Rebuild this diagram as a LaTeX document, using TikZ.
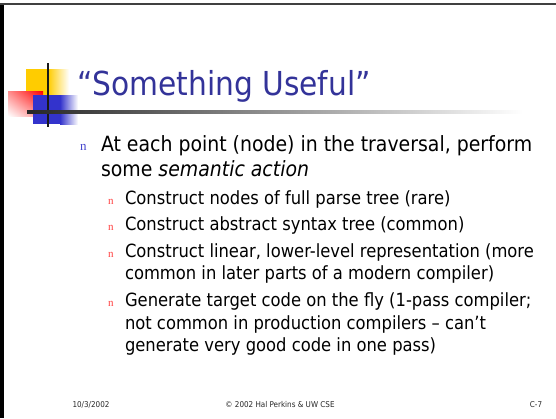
\documentclass[tikz,border=0pt]{standalone}
\usepackage{fontspec}
\setmainfont{DejaVu Sans Condensed}
\newfontfamily\bulletfont{Liberation Serif}
\usepackage{tikz}
\usetikzlibrary{shadings}
\definecolor{titleblue}{HTML}{333399}
\definecolor{logoyellow}{HTML}{FFCC00}
\definecolor{logored}{HTML}{FF0000}
\definecolor{logoblue}{HTML}{3333CC}
\definecolor{dotblue}{HTML}{4444CC}
\definecolor{dotred}{HTML}{FF4040}

\begin{document}
\begin{tikzpicture}[x=1pt,y=-1pt,
    every node/.style={inner sep=0,outer sep=0,anchor=base west},
    slidetitle/.style={font=\fontsize{33}{40}\selectfont,text=titleblue},
    lvlone/.style={font=\fontsize{21}{25}\selectfont},
    lvltwo/.style={font=\fontsize{18.2}{22}\selectfont},
    dotone/.style={font=\bulletfont\fontsize{13}{13}\selectfont,text=dotblue},
    dottwo/.style={font=\bulletfont\fontsize{11}{11}\selectfont,text=dotred},
    foot/.style={font=\fontsize{8}{9}\selectfont,text=black!85,anchor=base}]
    \useasboundingbox (0,0) rectangle (556,418);
    \fill[black] (0,3) rectangle (3.5,418);
    \fill[black!75] (0,2.7) rectangle (556,4.8);
    \fill[logoyellow] (26,69) rectangle (48,95);
    \shade[left color=logoyellow,right color=white] (48,69) rectangle (69,95);
    \shade[upper right=logored,upper left=logored!45,lower right=logored!45,lower left=white]
    (8,91) rectangle (43,116);
    \fill[logoblue] (33,95) rectangle (60,124);
    \shade[left color=logoblue,right color=white] (60,95) rectangle (78,124);
    \draw[line width=2.5pt,black!90] (48,63) -- (48,127);
    \shade[left color=black!85,right color=white] (27,110.8) rectangle (523,113.6);
    \node[slidetitle] (title) at (77,95) {“Something Useful”};
    \node[dotone] (b1) at (80,150.5) {n};
    \node[lvlone] (p1) at (101,151) {At each point (node) in the traversal, perform};
    \node[lvlone] (p2) at (101,176.5) {some \textit{semantic action}};
    \node[dottwo] (c1) at (108,204) {n};
    \node[lvltwo] (q1) at (125,204) {Construct nodes of full parse tree (rare)};
    \node[dottwo] (c2) at (108,230.5) {n};
    \node[lvltwo] (q2) at (125,230.5) {Construct abstract syntax tree (common)};
    \node[dottwo] (c3) at (108,257) {n};
    \node[lvltwo] (q3) at (125,257) {Construct linear, lower-level representation (more};
    \node[lvltwo] (q4) at (125,279.5) {common in later parts of a modern compiler)};
    \node[dottwo] (c4) at (108,306.5) {n};
    \node[lvltwo] (q5) at (125,306.5) {Generate target code on the fly (1-pass compiler;};
    \node[lvltwo] (q6) at (125,329) {not common in production compilers – can’t};
    \node[lvltwo] (q7) at (125,351.5) {generate very good code in one pass)};
    \node[foot] (date) at (91,407) {10/3/2002};
    \node[foot] (copy) at (280,407) {© 2002 Hal Perkins \& UW CSE};
    \node[foot] (page) at (536,407) {C-7};
\end{tikzpicture}
\end{document}
